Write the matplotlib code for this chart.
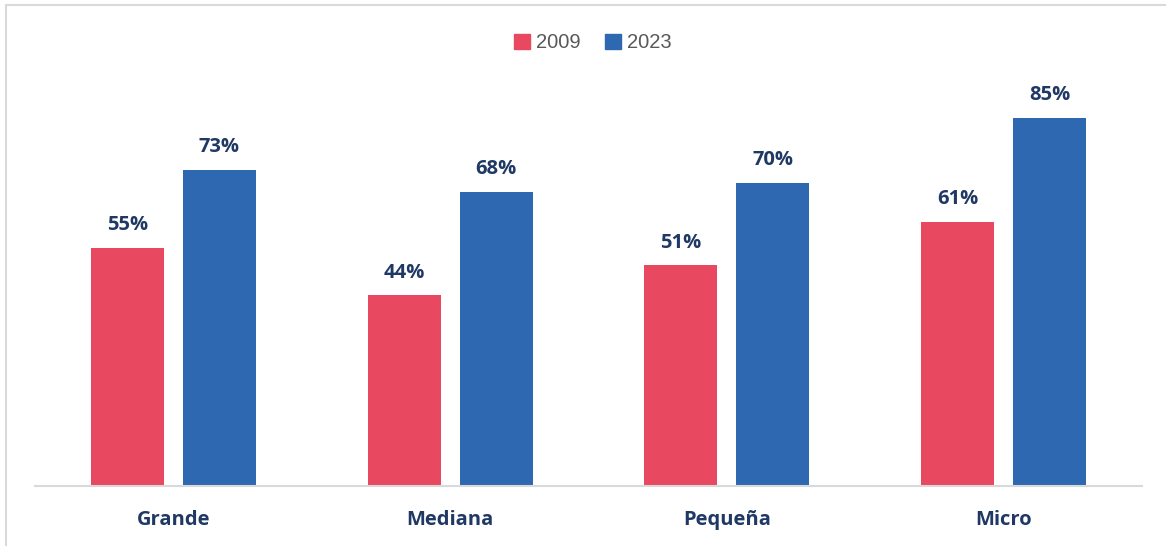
import matplotlib.pyplot as plt
import matplotlib.patches as mpatches
import numpy as np

categories = ['Grande', 'Mediana', 'Pequeña', 'Micro']
years = ['2009', '2023']
values_2009 = [55, 44, 51, 61]
values_2023 = [73, 68, 70, 85]

red = '#E84860'
blue = '#2E68B0'
navy = '#1F3864'

fig = plt.figure(figsize=(11.66, 5.46), dpi=100)
ax = fig.add_axes([35 / 1166, 60 / 546, 1107 / 1166, 433 / 546])

x = np.arange(len(categories))
w = 0.264
off = 0.166
b1 = ax.bar(x - off, values_2009, w, color=red, label=years[0])
b2 = ax.bar(x + off, values_2023, w, color=blue, label=years[1])

for bars, vals in [(b1, values_2009), (b2, values_2023)]:
    for bar, v in zip(bars, vals):
        ax.annotate(f'{v}%', (bar.get_x() + bar.get_width() / 2, v),
                    xytext=(0, 9), textcoords='offset points',
                    ha='center', va='bottom', fontsize=14.5,
                    fontweight='bold', color=navy, family='Open Sans')

ax.set_xlim(-0.5, 3.5)
ax.set_ylim(0, 100)
ax.set_xticks(x)
ax.set_xticklabels(categories, fontsize=14.5, fontweight='bold',
                   color=navy, family='Open Sans')
ax.tick_params(axis='x', length=0, pad=17)
ax.set_yticks([])
for s in ['top', 'right', 'left']:
    ax.spines[s].set_visible(False)
ax.spines['bottom'].set_color('#D9D9D9')
ax.spines['bottom'].set_linewidth(1.5)

handles = [mpatches.Patch(color=red, label=years[0]),
           mpatches.Patch(color=blue, label=years[1])]
fig.legend(handles=handles, loc='center', bbox_to_anchor=(593 / 1166, 1 - 43 / 546),
           ncol=2, frameon=False, handlelength=0.8, handleheight=0.8,
           handletextpad=0.3, columnspacing=1.2,
           prop={'family': 'Liberation Sans', 'size': 14.5}, labelcolor='#595959')

# chart border (top and left visible in the crop)
fig.add_artist(plt.Line2D([6 / 1166, 1], [1 - 5 / 546, 1 - 5 / 546],
                          transform=fig.transFigure, color='#D9D9D9', lw=1.5))
fig.add_artist(plt.Line2D([6 / 1166, 6 / 1166], [0, 1 - 5 / 546],
                          transform=fig.transFigure, color='#D9D9D9', lw=1.5))

fig.savefig('out.png', dpi=100)
